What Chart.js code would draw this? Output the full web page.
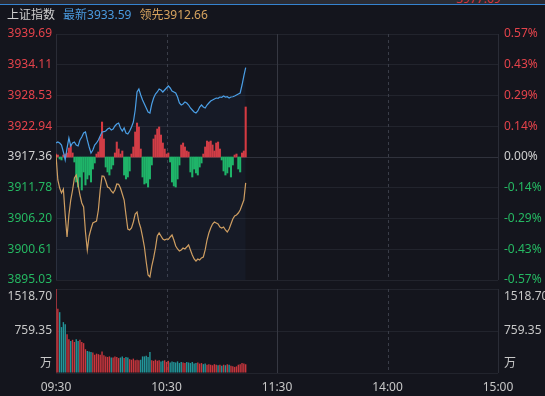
<!DOCTYPE html>
<html>
<head>
<meta charset="utf-8">
<script src="https://cdn.jsdelivr.net/npm/chart.js@4.4.1/dist/chart.umd.min.js"></script>
<style>
  html, body { margin: 0; padding: 0; background: #14151d; }
  #wrap { position: relative; width: 545px; height: 396px; overflow: hidden; background: #14151d;
          font-family: "Noto Sans", "Noto Sans CJK SC", sans-serif; }
  #strip { position: absolute; left: 0; top: 0; width: 545px; height: 4px; background: #2a2b33; overflow: hidden; }
  #strip span { position: absolute; left: 456px; top: -10px; color: #d8343c; font-size: 12px; }
  #bline { position: absolute; left: 0; top: 4px; width: 545px; height: 1px; background: #3583d0; }
  #head { position: absolute; left: 7px; top: 7px; font-size: 12px; line-height: 16px; white-space: nowrap; z-index: 2; }
  #head span { margin-right: 8px; }
  #c1 { position: absolute; left: 0; top: 0; }
  #c2 { position: absolute; left: 0; top: 284px; }
</style>
</head>
<body>
<div id="wrap">
  <canvas id="c1" width="545" height="300"></canvas>
  <canvas id="c2" width="545" height="112"></canvas>
  <div id="strip"><span>3977.69</span></div>
  <div id="bline"></div>
  <div id="head">
    <span style="color:#cfcfcf">上证指数</span><span id="hLatest" style="color:#4a9be0"></span><span id="hLead" style="color:#d7a45f"></span>
  </div>
</div>
<script>
// x axis: minutes of trading (0 = 09:30, 120 = 11:30/13:00, 240 = 15:00)
const timeTicks = [0, 60, 120, 180, 240];
const timeLabels = ['09:30', '10:30', '11:30', '14:00', '15:00'];

const prevClose = 3917.36;
const priceTicks = [3939.69, 3934.11, 3928.53, 3922.94, 3917.36, 3911.78, 3906.20, 3900.61, 3895.03];
const pctLabels = ['0.57%', '0.43%', '0.29%', '0.14%', '0.00%', '-0.14%', '-0.29%', '-0.43%', '-0.57%'];
const volTicks = [0, 759.35, 1518.70];
const volLabels = ['万', '759.35', '1518.70'];

// one value per minute from 09:30
const latest = [
  3919.90, 3920.08, 3919.90, 3919.54, 3918.27, 3916.82, 3918.99, 3920.81, 3919.36, 3919.90,
  3920.08, 3919.54, 3919.36, 3920.45, 3920.99, 3921.72, 3921.90, 3920.45, 3919.18, 3918.09,
  3918.63, 3919.54, 3919.90, 3920.45, 3921.17, 3921.90, 3921.95, 3922.08, 3922.44, 3922.63,
  3922.26, 3922.44, 3922.99, 3923.35, 3923.53, 3922.63, 3922.08, 3922.63, 3921.72, 3921.54,
  3922.08, 3922.81, 3923.71, 3925.89, 3929.16, 3929.71, 3928.62, 3927.71, 3926.98, 3926.26,
  3925.53, 3925.35, 3926.98, 3928.07, 3928.80, 3929.16, 3929.71, 3929.52, 3929.16, 3929.52,
  3929.89, 3930.25, 3929.89, 3929.34, 3929.16, 3928.98, 3928.25, 3927.16, 3926.80, 3926.98,
  3927.35, 3927.16, 3926.80, 3926.26, 3925.89, 3925.53, 3925.35, 3925.71, 3926.44, 3926.80,
  3926.44, 3926.26, 3926.80, 3927.16, 3927.53, 3927.71, 3927.89, 3928.07, 3928.02, 3928.25,
  3928.20, 3928.43, 3928.25, 3928.30, 3928.07, 3928.25, 3928.30, 3928.43, 3928.62, 3928.80,
  3928.98, 3930.43, 3932.07, 3933.59
];
const leading = [
  3917.72, 3913.19, 3911.73, 3910.83, 3911.55, 3906.83, 3902.84, 3906.83, 3909.55, 3911.37,
  3913.55, 3914.09, 3912.28, 3910.46, 3909.01, 3908.28, 3903.75, 3900.48, 3903.02, 3904.29,
  3905.38, 3905.56, 3905.74, 3907.74, 3911.37, 3913.91, 3913.85, 3913.00, 3911.91, 3911.73,
  3911.19, 3910.83, 3911.37, 3912.46, 3912.40, 3911.73, 3910.64, 3909.55, 3906.83, 3904.29,
  3904.11, 3904.47, 3905.56, 3907.01, 3907.38, 3905.56, 3904.47, 3902.84, 3901.02, 3898.30,
  3895.94, 3895.58, 3897.57, 3899.03, 3900.84, 3903.02, 3903.56, 3903.02, 3902.47, 3902.29,
  3902.47, 3902.40, 3902.84, 3903.20, 3902.29, 3901.20, 3900.66, 3900.30, 3900.48, 3900.84,
  3900.66, 3901.02, 3901.39, 3900.48, 3899.57, 3898.84, 3898.48, 3898.84, 3898.66, 3899.03,
  3899.21, 3900.48, 3902.29, 3903.56, 3904.47, 3905.20, 3905.56, 3905.38, 3905.20, 3904.65,
  3904.47, 3904.65, 3904.11, 3903.75, 3904.29, 3905.20, 3906.11, 3906.65, 3906.83, 3907.19,
  3907.74, 3908.65, 3909.55, 3912.66
];
// red / green bars around the previous close, in index points
const diffBars = [
  0.54, 0.36, -0.36, -0.54, 0.36, 0.54, 0.73, 1.63, 2.18, 0.73,
  -0.91, -4.54, -5.45, -3.63, -5.99, -2.72, -5.08, -3.99, -3.27, -4.54,
  -2.18, -1.09, 0.54, 0.91, 3.63, 6.35, 3.27, -1.82, -2.72, -3.27,
  -2.18, -1.45, 0.73, 2.72, 1.45, 0.54, 1.09, -3.27, -3.99, -3.63,
  -2.54, 0.54, 1.82, 4.54, 6.17, 5.45, 1.45, -3.63, -4.90, -4.72,
  -5.45, -3.99, -1.45, 3.27, 3.99, 5.08, 5.45, 3.99, 2.54, 1.45,
  0.54, 0.73, -0.91, -4.54, -5.26, -5.45, -3.99, -1.45, 2.18, 2.54,
  1.82, 1.09, 0.91, -2.72, -3.63, -2.18, -2.90, -3.27, -1.82, -1.09,
  0.54, 1.82, 2.90, 2.72, 2.90, 2.18, 1.09, 2.54, 2.72, 1.45,
  -0.54, -2.54, -3.27, -2.90, -1.82, -3.63, -1.45, 0.36, 0.54, -2.18,
  -2.72, 0.73, 1.09, 9.08
];
// volume, 万
const volume = [
  1518.70, 1160, 1100, 830, 920, 880, 700, 610, 580, 600,
  560, 610, 580, 600, 560, 540, 430, 400, 390, 380,
  370, 330, 350, 340, 330, 390, 320, 300, 290, 300,
  280, 280, 300, 290, 270, 280, 300, 270, 290, 280,
  250, 240, 260, 230, 240, 230, 240, 300, 300, 310,
  290, 380, 230, 220, 240, 220, 230, 210, 220, 230,
  200, 220, 190, 210, 200, 190, 210, 180, 200, 190,
  180, 200, 190, 180, 200, 170, 180, 190, 170, 180,
  160, 170, 150, 160, 150, 140, 160, 150, 140, 150,
  130, 150, 140, 160, 150, 130, 120, 110, 120, 150,
  160, 180, 170, 160
];

const RED = '#e5434b', GREEN = '#25b862', GRAY = '#cfcfcf';
const GRID = '#22242d';
Chart.defaults.font.family = '"Noto Sans", "Noto Sans CJK SC", sans-serif';
Chart.defaults.font.size = 12;

document.getElementById('hLatest').textContent = '最新' + latest[latest.length - 1].toFixed(2);
document.getElementById('hLead').textContent = '领先' + leading[leading.length - 1].toFixed(2);

const pts = arr => arr.map((v, i) => ({ x: i, y: v }));
const priceColor = ctx => ctx.tick.value > prevClose + 0.001 ? RED : (ctx.tick.value < prevClose - 0.001 ? GREEN : GRAY);

// vertical time lines, dashed at 10:30 / 14:00
const timeGrid = {
  id: 'timeGrid',
  beforeDatasetsDraw(chart) {
    const { ctx, chartArea: a, scales: { x } } = chart;
    ctx.save();
    ctx.lineWidth = 1;
    timeTicks.forEach((t, i) => {
      const px = Math.round(x.getPixelForValue(t)) + 0.5;
      if (i === 1 || i === 3) { ctx.setLineDash([3, 3]); ctx.strokeStyle = '#3a3d48'; }
      else if (i === 2) { ctx.setLineDash([]); ctx.strokeStyle = '#363842'; }
      else { ctx.setLineDash([]); ctx.strokeStyle = '#2a2c36'; }
      ctx.beginPath();
      ctx.moveTo(px, a.top); ctx.lineTo(px, a.bottom);
      ctx.stroke();
    });
    ctx.restore();
  }
};

const xScale = (show) => ({
  type: 'linear', min: 0, max: 240, offset: false, display: show,
  afterBuildTicks: s => { s.ticks = timeTicks.map(v => ({ value: v })); },
  afterFit: s => { if (show) s.height = 23; },
  grid: { display: false, offset: false },
  border: { display: false },
  ticks: { color: '#c8c8c8', padding: -1, maxRotation: 0, autoSkip: false,
           callback: (v, i) => timeLabels[i] }
});

new Chart(document.getElementById('c1'), {
  type: 'bar',
  data: {
    datasets: [
      { type: 'line', data: pts(latest), borderColor: '#4b9fe6', borderWidth: 1.2, pointRadius: 0,
        fill: 'start', backgroundColor: 'rgba(70,130,210,0.05)', order: 1 },
      { type: 'line', data: pts(leading), borderColor: '#d6a05c', borderWidth: 1.2, pointRadius: 0,
        fill: false, order: 2 },
      { type: 'bar', data: diffBars.map((d, i) => ({ x: i, y: [prevClose, prevClose + d] })),
        backgroundColor: ctx => diffBars[ctx.dataIndex] >= 0 ? '#d9393f' : '#1db764',
        barThickness: 1.4, order: 3 }
    ]
  },
  options: {
    responsive: false, animation: false, events: [],
    layout: { padding: { top: 34, bottom: 20, left: 0, right: 0 } },
    plugins: { legend: { display: false }, tooltip: { enabled: false } },
    scales: {
      x: xScale(false),
      y: {
        position: 'left', min: 3895.03, max: 3939.69,
        afterBuildTicks: s => { s.ticks = priceTicks.map(v => ({ value: v })); },
        afterFit: s => { s.width = 56; },
        grid: { color: ctx => Math.abs(ctx.tick.value - prevClose) < 0.001 ? '#30323c' : GRID, drawTicks: false },
        border: { display: false },
        ticks: { padding: 4, color: priceColor, callback: v => v.toFixed(2) }
      },
      y2: {
        position: 'right', min: 3895.03, max: 3939.69,
        afterBuildTicks: s => { s.ticks = priceTicks.map(v => ({ value: v })); },
        afterFit: s => { s.width = 47; },
        grid: { display: false, drawTicks: false },
        border: { display: false },
        ticks: { padding: 6, color: priceColor, callback: (v, i) => pctLabels[i] }
      }
    }
  },
  plugins: [timeGrid]
});

// volume labels sit inside the panel, clamped to its edges
const volText = {
  id: 'volText',
  afterDraw(chart) {
    const { ctx, chartArea: a, scales: { y } } = chart;
    ctx.save();
    ctx.font = '12px ' + Chart.defaults.font.family;
    ctx.fillStyle = '#c8c8c8';
    ctx.textBaseline = 'middle';
    volTicks.forEach((v, i) => {
      const py = Math.min(Math.max(y.getPixelForValue(v), a.top + 8), a.bottom - 9);
      ctx.textAlign = 'right'; ctx.fillText(volLabels[i], a.left - 4, py);
      ctx.textAlign = 'left'; ctx.fillText(volLabels[i], a.right + 6, py);
    });
    ctx.restore();
  }
};

new Chart(document.getElementById('c2'), {
  type: 'bar',
  data: {
    datasets: [{
      data: pts(volume),
      backgroundColor: ctx => {
        const i = ctx.dataIndex;
        if (i === 0) return '#c9363d';
        const d = latest[i] - latest[i - 1];
        return d > 0 ? '#c9363d' : (d < 0 ? '#23979a' : '#8a8b92');
      },
      categoryPercentage: 1, barPercentage: 0.75
    }]
  },
  options: {
    responsive: false, animation: false, events: [],
    layout: { padding: { top: 5, bottom: 0, left: 0, right: 0 } },
    plugins: { legend: { display: false }, tooltip: { enabled: false } },
    scales: {
      x: xScale(true),
      y: {
        position: 'left', min: 0, max: 1518.70,
        afterBuildTicks: s => { s.ticks = volTicks.map(v => ({ value: v })); },
        afterFit: s => { s.width = 56; },
        grid: { color: GRID, drawTicks: false },
        border: { display: false },
        ticks: { display: false }
      },
      y2: {
        position: 'right', min: 0, max: 1518.70,
        afterFit: s => { s.width = 47; },
        grid: { display: false, drawTicks: false },
        border: { display: false },
        ticks: { display: false }
      }
    }
  },
  plugins: [timeGrid, volText]
});
</script>
</body>
</html>
